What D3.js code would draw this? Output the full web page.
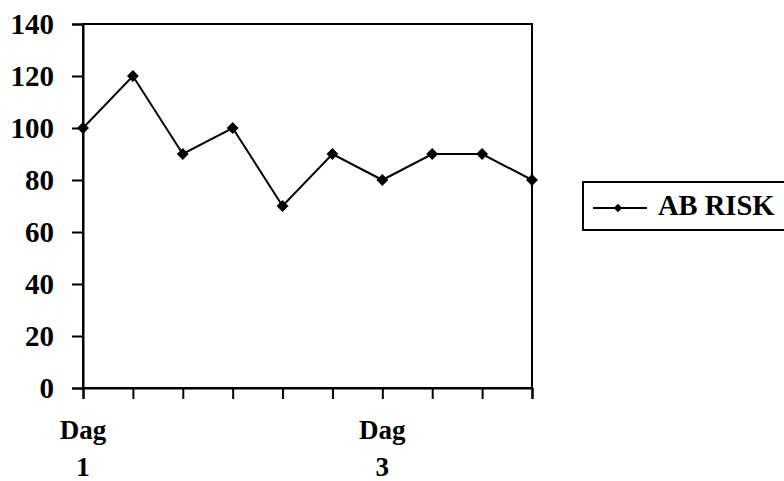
<!DOCTYPE html>
<html>
<head>
<meta charset="utf-8">
<script src="https://cdn.jsdelivr.net/npm/d3@7"></script>
<style>
    body { margin: 0; background: #fff; }
    text { font-family: "Liberation Serif", "Times New Roman", serif; font-weight: bold; }
</style>
</head>
<body>
<svg id="chart" width="784" height="481"></svg>
<script>
const categories = ['Dag 1', '', '', '', '', '', 'Dag 3', '', '', ''];
const riskValues = [100, 120, 90, 100, 70, 90, 80, 90, 90, 80];
const yTicks = [0, 20, 40, 60, 80, 100, 120, 140];
const seriesName = 'AB RISK';

const svg = d3.select('#chart');
const margens = { left: 83, right: 252, top: 24, bottom: 93 };
const width = 784 - margens.left - margens.right;
const height = 481 - margens.top - margens.bottom;

const x = d3.scalePoint()
    .domain(d3.range(categories.length))
    .range([0, width]);

const y = d3.scaleLinear()
    .domain([0, 140])
    .range([height, 0]);

const g = svg.append('g')
    .attr('transform', `translate(${margens.left}, ${margens.top})`);

// ---- moldura da área do gráfico
g.append('rect')
    .attr('x', 0).attr('y', 0)
    .attr('width', width).attr('height', height)
    .attr('fill', 'none').attr('stroke', '#000').attr('stroke-width', 2);

// ---- eixo Y
g.append('g')
    .call(d3.axisLeft(y).tickValues(yTicks).tickSize(11).tickPadding(18))
    .call(a => a.select('.domain').attr('stroke-width', 2))
    .call(a => a.selectAll('.tick line').attr('stroke-width', 2))
    .call(a => a.selectAll('text')
        .attr('font-size', '29px')
        .attr('fill', '#000')
        .attr('font-family', '"Liberation Serif", serif'));

// ---- eixo X
g.append('g')
    .attr('transform', `translate(0, ${height})`)
    .call(d3.axisBottom(x).tickSize(11).tickFormat(''))
    .call(a => a.select('.domain').attr('stroke-width', 2))
    .call(a => a.selectAll('.tick line').attr('stroke-width', 2));

const xLabels = g.append('g')
    .selectAll('text')
    .data(categories.map((c, i) => ({ label: c, i })).filter(d => d.label))
    .join('text')
    .attr('text-anchor', 'middle')
    .attr('font-size', '27px')
    .attr('fill', '#000');

xLabels.selectAll('tspan')
    .data(d => d.label.split(' ').map(w => ({ w, i: d.i })))
    .join('tspan')
    .attr('x', d => x(d.i))
    .attr('y', (d, k) => height + 51 + k * 37)
    .text(d => d.w);

// ---- série
const line = d3.line()
    .x((d, i) => x(i))
    .y(d => y(d));

g.append('path')
    .datum(riskValues)
    .attr('fill', 'none')
    .attr('stroke', '#000')
    .attr('stroke-width', 2)
    .attr('d', line);

const diamond = d3.symbol().type(d3.symbolDiamond2).size(90);

g.selectAll('.marker')
    .data(riskValues)
    .join('path')
    .attr('class', 'marker')
    .attr('transform', (d, i) => `translate(${x(i)}, ${y(d)})`)
    .attr('d', diamond)
    .attr('fill', '#000');

// ---- legenda
const legend = svg.append('g')
    .attr('transform', 'translate(583, 182)');

legend.append('rect')
    .attr('x', 0).attr('y', 0)
    .attr('width', 220).attr('height', 48)
    .attr('fill', '#fff').attr('stroke', '#000').attr('stroke-width', 2);

legend.append('line')
    .attr('x1', 10).attr('x2', 64)
    .attr('y1', 26).attr('y2', 26)
    .attr('stroke', '#000').attr('stroke-width', 2);

legend.append('path')
    .attr('transform', 'translate(35, 26)')
    .attr('d', d3.symbol().type(d3.symbolDiamond2).size(45))
    .attr('fill', '#000');

legend.append('text')
    .attr('x', 75).attr('y', 33)
    .attr('font-size', '28.5px')
    .attr('fill', '#000')
    .text(seriesName);
</script>
</body>
</html>
